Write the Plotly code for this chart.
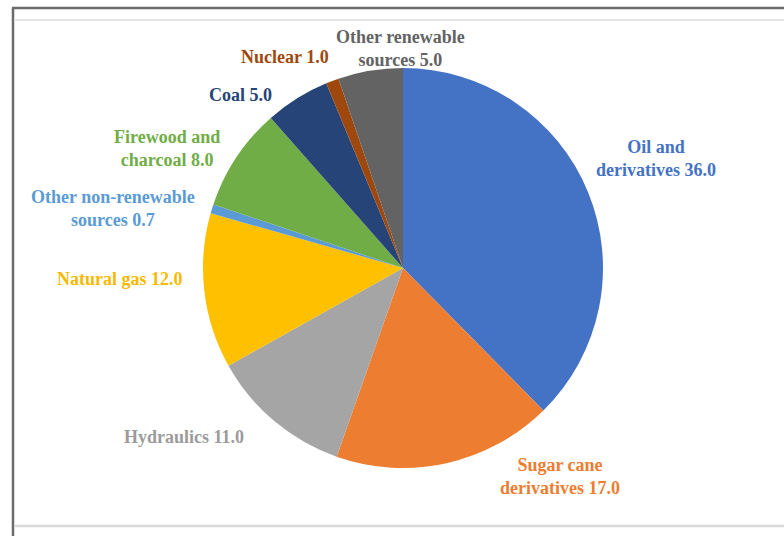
import plotly.graph_objects as go

# Energy sources, in clockwise order from 12 o'clock
sources = [
    "Oil and derivatives",
    "Sugar cane derivatives",
    "Hydraulics",
    "Natural gas",
    "Other non-renewable sources",
    "Firewood and charcoal",
    "Coal",
    "Nuclear",
    "Other renewable sources",
]
shares = [36.0, 17.0, 11.0, 12.0, 0.7, 8.0, 5.0, 1.0, 5.0]

# Line breaks used in each data label
label_lines = [
    ["Oil and", "derivatives"],
    ["Sugar cane", "derivatives"],
    ["Hydraulics"],
    ["Natural gas"],
    ["Other non-renewable", "sources"],
    ["Firewood and", "charcoal"],
    ["Coal"],
    ["Nuclear"],
    ["Other renewable", "sources"],
]

slice_colors = ["#4472C4", "#ED7D31", "#A5A5A5", "#FFC000", "#5B9BD5",
                "#70AD47", "#264478", "#9E480E", "#636363"]
text_colors = ["#4472C4", "#ED7D31", "#9B9B9B", "#F7BA00", "#5B9BD5",
               "#70AD47", "#264478", "#9E480E", "#636363"]

# Label centres in pixels (x from left, y from top)
label_px = [(656, 158), (560, 476), (184, 437), (120, 279), (113, 208),
            (167, 148), (240, 95), (285, 57), (400, 48)]

W, H = 784, 536
cx, cy, r = 403, 268, 200
SERIF = "Times New Roman, Liberation Serif, DejaVu Serif, serif"

fig = go.Figure(go.Pie(
    labels=sources,
    values=shares,
    sort=False,
    direction="clockwise",
    rotation=0,
    textinfo="none",
    hoverinfo="label+value",
    marker=dict(colors=slice_colors, line=dict(width=0)),
    domain=dict(x=[(cx - r) / W, (cx + r) / W],
                y=[1 - (cy + r) / H, 1 - (cy - r) / H]),
    showlegend=False,
))

for lines, val, col, (px, py) in zip(label_lines, shares, text_colors, label_px):
    text = "<br>".join(lines[:-1] + [f"{lines[-1]} {val:.1f}"])
    fig.add_annotation(
        x=px / W, y=1 - py / H, xref="paper", yref="paper",
        text=f"<b>{text}</b>", showarrow=False, align="center",
        xanchor="center", yanchor="middle",
        font=dict(family=SERIF, size=18, color=col),
    )

# Chart frame
frame = [
    dict(x0=12 / W, x1=1, y0=1 - 8 / H, y1=1 - 8 / H, color="#6b6b6b", w=2.5),
    dict(x0=13 / W, x1=13 / W, y0=0, y1=1 - 8 / H, color="#6b6b6b", w=2.5),
    dict(x0=14 / W, x1=1, y0=1 - 20 / H, y1=1 - 20 / H, color="#e4e4e4", w=2),
    dict(x0=14 / W, x1=1, y0=1 - 526 / H, y1=1 - 526 / H, color="#d9d9d9", w=2.5),
]
for f in frame:
    fig.add_shape(type="line", xref="paper", yref="paper",
                  x0=f["x0"], x1=f["x1"], y0=f["y0"], y1=f["y1"],
                  line=dict(color=f["color"], width=f["w"]))

fig.update_layout(
    width=W, height=H,
    margin=dict(l=0, r=0, t=0, b=0),
    paper_bgcolor="white",
    plot_bgcolor="white",
    font=dict(family=SERIF),
)

fig.write_html("out.html")
